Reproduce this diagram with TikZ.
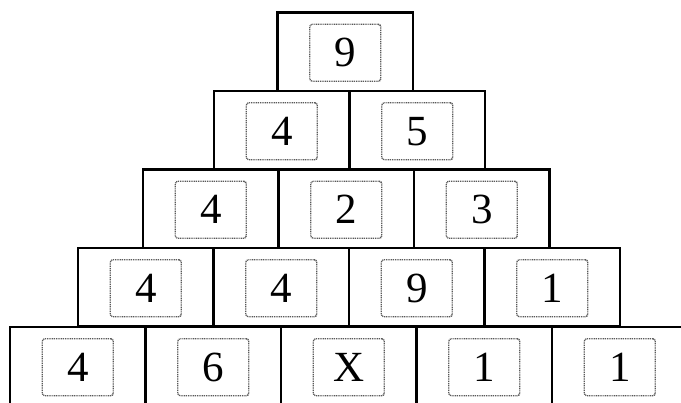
\documentclass[tikz,border=0pt]{standalone}
\usepackage{fontspec}
\setmainfont{Liberation Serif}
\begin{document}
\begin{tikzpicture}[x=1pt,y=-1pt,
  cell/.style={draw=black, line width=2.3pt, minimum width=135.5pt, minimum height=78.5pt,
    anchor=north west, inner sep=0pt, outer sep=0pt},
  num/.style={draw=black!65, line width=1.4pt, dash pattern=on 1pt off 0.8pt,
    rounded corners=2.5pt, minimum width=71pt, minimum height=57pt, inner sep=0pt,
    font=\fontsize{43}{43}\selectfont}]
\useasboundingbox (0,0) rectangle (681,403);
\fill[white] (0,0) rectangle (681,403);
\begin{scope}
\clip (0,0) rectangle (681,403);
% row 1
\node[cell] (c1-1) at (277.5,12.5) {};
% row 2
\node[cell] (c2-1) at (214,91) {};
\node[cell] (c2-2) at (349.5,91) {};
% row 3
\node[cell] (c3-1) at (143,169.5) {};
\node[cell] (c3-2) at (278.5,169.5) {};
\node[cell] (c3-3) at (414,169.5) {};
% row 4
\node[cell] (c4-1) at (78,248) {};
\node[cell] (c4-2) at (213.5,248) {};
\node[cell] (c4-3) at (349,248) {};
\node[cell] (c4-4) at (484.5,248) {};
% row 5
\node[cell] (c5-1) at (10,327) {};
\node[cell] (c5-2) at (145.5,327) {};
\node[cell] (c5-3) at (281,327) {};
\node[cell] (c5-4) at (416.5,327) {};
\node[cell] (c5-5) at (552,327) {};
% numbers
\node[num] (n1-1) at ([yshift=-1pt]c1-1.center) {9};
\node[num] (n2-1) at ([yshift=-1pt]c2-1.center) {4};
\node[num] (n2-2) at ([yshift=-1pt]c2-2.center) {5};
\node[num] (n3-1) at ([yshift=-1pt]c3-1.center) {4};
\node[num] (n3-2) at ([yshift=-1pt]c3-2.center) {2};
\node[num] (n3-3) at ([yshift=-1pt]c3-3.center) {3};
\node[num] (n4-1) at ([yshift=-1pt]c4-1.center) {4};
\node[num] (n4-2) at ([yshift=-1pt]c4-2.center) {4};
\node[num] (n4-3) at ([yshift=-1pt]c4-3.center) {9};
\node[num] (n4-4) at ([yshift=-1pt]c4-4.center) {1};
\node[num] (n5-1) at ([yshift=-1pt]c5-1.center) {4};
\node[num] (n5-2) at ([yshift=-1pt]c5-2.center) {6};
\node[num] (n5-3) at ([yshift=-1pt]c5-3.center) {X};
\node[num] (n5-4) at ([yshift=-1pt]c5-4.center) {1};
\node[num] (n5-5) at ([yshift=-1pt]c5-5.center) {1};
\end{scope}
\end{tikzpicture}
\end{document}
